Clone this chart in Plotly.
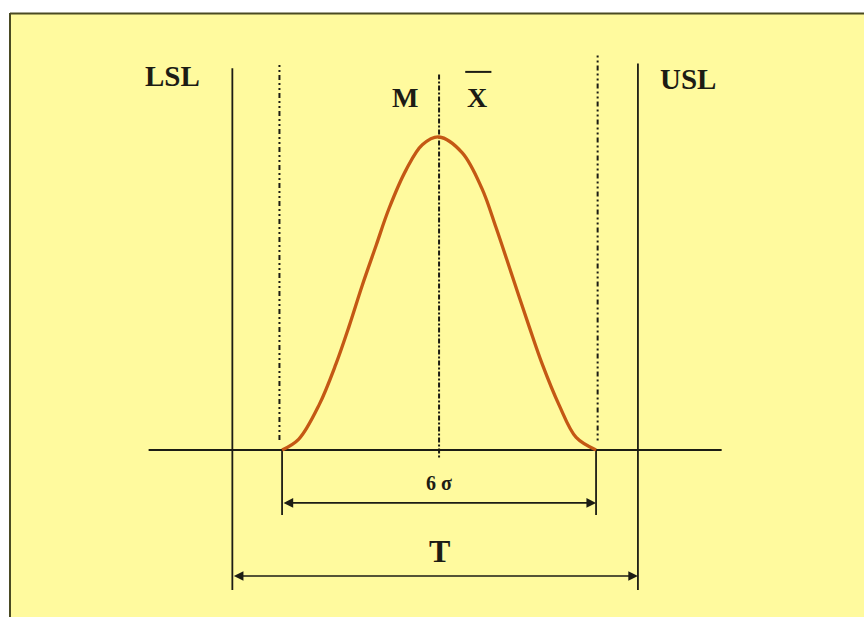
import plotly.graph_objects as go

# Colours
bg_yellow = "#fffa9e"
ink = "#1c1c14"
curve_col = "rgb(196,88,20)"

# Process curve, x in sigma units from the mean, height relative to the peak
sigma_x = [-3.0, -2.68, -2.29, -1.97, -1.72, -1.47, -1.20, -0.96, -0.63, -0.32, 0.0,
           0.44, 0.82, 1.09, 1.40, 1.72, 1.97, 2.29, 2.62, 3.0]
density = [0.0, 0.035, 0.145, 0.275, 0.395, 0.525, 0.655, 0.77, 0.895, 0.975, 1.0,
           0.95, 0.835, 0.71, 0.555, 0.395, 0.275, 0.145, 0.04, 0.0]

# Specification and natural limits (sigma units)
spec_limits = [-3.95, 3.8]          # LSL, USL
natural_limits = [-3.05, 3.03]      # dotted lines
spread_limits = [-3.0, 3.0]         # 6 sigma span
mean_x = 0.0

fig = go.Figure()

# baseline
fig.add_trace(go.Scatter(x=[-5.55, 5.4], y=[0, 0], mode="lines",
                         line=dict(color=ink, width=1.8), hoverinfo="skip"))

# LSL / USL lines
for xs, top in zip(spec_limits, [1.22, 1.235]):
    fig.add_trace(go.Scatter(x=[xs, xs], y=[top, -0.447], mode="lines",
                             line=dict(color=ink, width=1.8), hoverinfo="skip"))

# dotted natural limits
for xs, top in zip(natural_limits, [1.23, 1.26]):
    fig.add_trace(go.Scatter(x=[xs, xs], y=[top, 0.03], mode="lines",
                             line=dict(color=ink, width=2, dash="2px,3px,2px,3px,5px,3px"),
                             hoverinfo="skip"))

# centre line
fig.add_trace(go.Scatter(x=[mean_x, mean_x], y=[1.2, -0.026], mode="lines",
                         line=dict(color=ink, width=2, dash="5px,2px,2px,2px"),
                         hoverinfo="skip"))

# 6 sigma ticks
for xs in spread_limits:
    fig.add_trace(go.Scatter(x=[xs, xs], y=[0, -0.208], mode="lines",
                             line=dict(color=ink, width=1.8), hoverinfo="skip"))

# curve
fig.add_trace(go.Scatter(x=sigma_x, y=density, mode="lines",
                         line=dict(color=curve_col, width=3.3, shape="spline", smoothing=1),
                         hoverinfo="skip"))

# double arrows
arrow_rows = [(spread_limits, -0.169), (spec_limits, -0.4026)]
for (x0, x1), yv in arrow_rows:
    fig.add_annotation(x=x1, y=yv, ax=x0, ay=yv, xref="x", yref="y", axref="x", ayref="y",
                       text="", showarrow=True, arrowhead=2, arrowside="end+start",
                       arrowsize=1.2, arrowwidth=1.6, arrowcolor=ink)

# labels
label_font = dict(family="Liberation Serif", color=ink)
labels = [("<b>LSL</b>", -5.1, 1.195, 29), ("<b>USL</b>", 4.76, 1.185, 29),
          ("<b>M</b>", -0.65, 1.125, 28), ("<b>X</b>", 0.73, 1.125, 28),
          ("<b>6 σ</b>", 0.0, -0.105, 20), ("<b>T</b>", 0.0, -0.322, 32)]
for txt, xl, yl, size in labels:
    fig.add_annotation(x=xl, y=yl, text=txt, showarrow=False,
                       font=dict(size=size, **label_font))

# bar over X
fig.add_shape(type="line", x0=0.5, x1=1.0, y0=1.208, y1=1.208, line=dict(color=ink, width=2))

# yellow panel with dark top/left border
fig.add_shape(type="rect", xref="paper", yref="paper", x0=9 / 864, x1=1, y0=0, y1=1 - 13 / 617,
              fillcolor=bg_yellow, line=dict(width=0), layer="below")
fig.add_shape(type="line", xref="paper", yref="paper", x0=10 / 864, x1=1,
              y0=1 - 13.5 / 617, y1=1 - 13.5 / 617, line=dict(color="#4a4a22", width=2))
fig.add_shape(type="line", xref="paper", yref="paper", x0=10 / 864, x1=10 / 864,
              y0=0, y1=1 - 13 / 617, line=dict(color="#4a4a22", width=2))

fig.update_layout(
    width=864, height=617,
    margin=dict(l=0, r=0, t=0, b=0),
    paper_bgcolor="white", plot_bgcolor="white",
    showlegend=False,
    xaxis=dict(range=[-8.39, 8.12], visible=False, fixedrange=True),
    yaxis=dict(range=[-0.5335, 1.4377], visible=False, fixedrange=True),
)

fig.write_html("out.html", config=dict(displayModeBar=False),
               post_script="document.body.style.margin='0';document.body.style.overflow='hidden';")
